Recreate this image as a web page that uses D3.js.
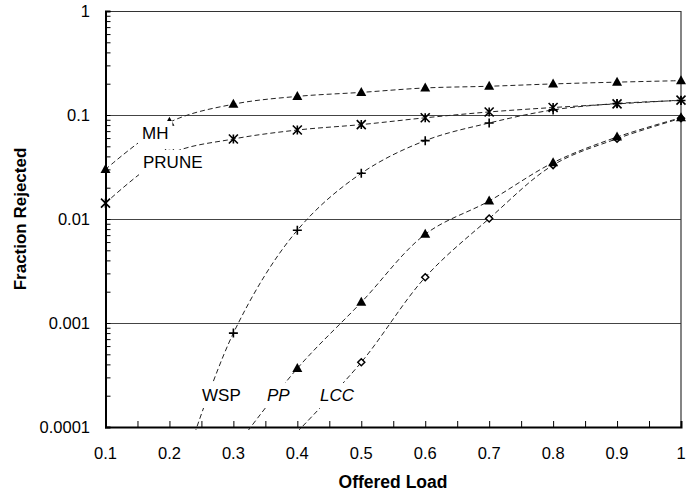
<!DOCTYPE html>
<html><head><meta charset="utf-8">
<script src="https://cdn.jsdelivr.net/npm/d3@7"></script>
<style>body{margin:0;background:#fff}svg{display:block}</style></head>
<body>
<svg id="c" width="700" height="493"></svg>
<script>
const loads=[0.1,0.2,0.3,0.4,0.5,0.6,0.7,0.8,0.9,1.0];
const xTicks=[0.1,0.2,0.3,0.4,0.5,0.6,0.7,0.8,0.9,1];
const xTickLabels=["0.1","0.2","0.3","0.4","0.5","0.6","0.7","0.8","0.9","1"];
const yTicks=[0.0001,0.001,0.01,0.1,1];
const yTickLabels=["0.0001","0.001","0.01","0.1","1"];
const mh=[0.030,0.085,0.127,0.151,0.165,0.182,0.189,0.199,0.207,0.214];
const prune=[0.0142,0.042,0.0588,0.0717,0.0809,0.094,0.107,0.118,0.128,0.139];
const wsp=[null,0.000016,0.0008,0.0078,0.0275,0.0567,0.0838,0.112,0.129,0.138];
const pp=[null,null,0.00006,0.000366,0.00158,0.00713,0.0149,0.0348,0.0614,0.0942];
const lcc=[null,null,null,0.00009,0.000419,0.00275,0.0101,0.033,0.0592,0.093];
const seriesNames=["MH","PRUNE","WSP","PP","LCC"];
const markers=["triangle","asterisk","plus","triangle","diamond"];
const seriesVals=[mh,prune,wsp,pp,lcc];

const L=105.5,R=681,T=11,B=427;
const FONT="Liberation Sans, Arial, sans-serif";
const svg=d3.select("#c");
const x=d3.scaleLinear().domain([0.1,1]).range([L,R]);
const y=d3.scaleLog().domain([0.0001,1]).range([B,T]);

svg.append("defs").append("clipPath").attr("id","clip")
  .append("rect").attr("x",L).attr("y",T).attr("width",R-L).attr("height",B-T+3);

// gridlines
svg.append("g").selectAll("line").data([0.001,0.01,0.1]).join("line")
  .attr("x1",L).attr("x2",R).attr("y1",d=>Math.round(y(d))+0.5).attr("y2",d=>Math.round(y(d))+0.5)
  .attr("stroke","#444").attr("stroke-width",1);
// frame top/right
svg.append("line").attr("x1",L).attr("x2",R).attr("y1",T+0.5).attr("y2",T+0.5).attr("stroke","#333").attr("stroke-width",1.2);
svg.append("line").attr("x1",R).attr("x2",R).attr("y1",T).attr("y2",B).attr("stroke","#333").attr("stroke-width",1.2);

// y axis with minor ticks
const minorY=[];
for(let e=-4;e<0;e++){for(let m=2;m<=9;m++){minorY.push(m*Math.pow(10,e));}}
const yAxis=d3.axisRight(y).tickValues(minorY.concat(yTicks)).tickSize(5).tickFormat("");
const gy=svg.append("g").attr("transform",`translate(${L},0)`).call(yAxis);
gy.select(".domain").attr("stroke","#000").attr("stroke-width",2);
gy.selectAll(".tick line").attr("stroke","#000");
svg.append("g").selectAll("text").data(yTicks).join("text")
  .attr("x",90).attr("y",d=>y(d)).attr("dy","0.35em").attr("text-anchor","end")
  .attr("font-family",FONT).attr("font-size",16.5)
  .text((d,i)=>yTickLabels[i]);

// x axis with minor ticks
const xAll=d3.range(0.1,1.0001,0.05).map(v=>+v.toFixed(2));
const xAxis=d3.axisTop(x).tickValues(xAll).tickSize(6).tickFormat("");
const gx=svg.append("g").attr("transform",`translate(0,${B})`).call(xAxis);
gx.select(".domain").attr("stroke","#000").attr("stroke-width",2);
gx.selectAll(".tick line").attr("stroke","#000");
svg.append("g").selectAll("text").data(xTicks).join("text")
  .attr("x",d=>x(d)).attr("y",459).attr("text-anchor","middle")
  .attr("font-family",FONT).attr("font-size",16.5)
  .text((d,i)=>xTickLabels[i]);

// axis titles
svg.append("text").attr("x",393).attr("y",488).attr("text-anchor","middle")
  .attr("font-family",FONT).attr("font-size",17.5).attr("font-weight","bold")
  .text("Offered Load");
svg.append("text").attr("transform","translate(26,219) rotate(-90)").attr("text-anchor","middle")
  .attr("font-family",FONT).attr("font-size",17).attr("font-weight","bold")
  .text("Fraction Rejected");

// lines
const line=d3.line().defined(d=>d[1]!=null).x(d=>x(d[0])).y(d=>y(d[1])).curve(d3.curveCatmullRom.alpha(0.5));
const gl=svg.append("g").attr("clip-path","url(#clip)");
seriesVals.forEach(vals=>{
  gl.append("path").datum(loads.map((l,i)=>[l,vals[i]]))
    .attr("d",line).attr("fill","none").attr("stroke","#222").attr("stroke-width",1)
    .attr("stroke-dasharray","5,3");
});

// markers
const gm=svg.append("g");
function drawMarker(g,type,cx,cy){
  if(type==="triangle"){
    g.append("path").attr("d",`M${cx},${cy-5.5}L${cx+5},${cy+3.5}L${cx-5},${cy+3.5}Z`).attr("fill","#000");
  }else if(type==="asterisk"){
    const s=4.5;
    g.append("path").attr("d",`M${cx-s},${cy-s}L${cx+s},${cy+s}M${cx-s},${cy+s}L${cx+s},${cy-s}M${cx},${cy-s}L${cx},${cy+s}`)
      .attr("stroke","#000").attr("stroke-width",1.6).attr("fill","none");
  }else if(type==="plus"){
    const s=4.5;
    g.append("path").attr("d",`M${cx-s},${cy}L${cx+s},${cy}M${cx},${cy-s}L${cx},${cy+s}`)
      .attr("stroke","#000").attr("stroke-width",1.6).attr("fill","none");
  }else if(type==="diamond"){
    const s=3.5;
    g.append("path").attr("d",`M${cx},${cy-s}L${cx+s},${cy}L${cx},${cy+s}L${cx-s},${cy}Z`)
      .attr("stroke","#000").attr("stroke-width",1.5).attr("fill","#fff");
  }
}
// draw LCC first, then the others so PP triangles sit on top
[4,0,1,2,3].forEach(si=>{
  seriesVals[si].forEach((v,i)=>{
    if(v!=null && v>=0.0001) drawMarker(gm,markers[si],x(loads[i]),y(v));
  });
});

// labels with white background
const labels=[
  {t:"MH",x:142,y:139,it:false,pt:3,pb:3},
  {t:"PRUNE",x:143,y:168,it:false,pt:3,pb:3},
  {t:"WSP",x:202,y:401,it:false,pt:3,pb:3},
  {t:"PP",x:267,y:401,it:true,pt:3,pb:3},
  {t:"LCC",x:320,y:401,it:true,pt:3,pb:3}
];
const glab=svg.append("g");
labels.forEach(l=>{
  const r=glab.append("rect").attr("fill","#fff");
  const t=glab.append("text").attr("x",l.x).attr("y",l.y)
    .attr("font-family",FONT).attr("font-size",17)
    .attr("font-style",l.it?"italic":"normal").text(l.t);
  const bb=t.node().getBBox();
  r.attr("x",bb.x-4).attr("y",bb.y-l.pt).attr("width",bb.width+8).attr("height",bb.height+l.pt+l.pb);
});
</script>
</body></html>
